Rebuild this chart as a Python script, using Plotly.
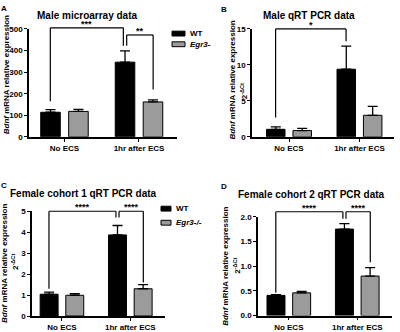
import plotly.graph_objects as go

W, H = 400, 332
FONT = "Liberation Sans, Arial, sans-serif"

categories = ["No ECS", "1hr after ECS"]

# Panel A - Male microarray data
a_wt = [114, 346]
a_wt_err = [12, 52]
a_egr = [118, 162]
a_egr_err = [9, 9]

# Panel B - Male qRT PCR data
b_wt = [1.05, 9.4]
b_wt_err = [0.35, 3.2]
b_egr = [0.88, 3.0]
b_egr_err = [0.3, 1.25]

# Panel C - Female cohort 1 qRT PCR data
c_wt = [1.04, 3.87]
c_wt_err = [0.1, 0.45]
c_egr = [0.99, 1.3]
c_egr_err = [0.08, 0.2]

# Panel D - Female cohort 2 qRT PCR data
d_wt = [0.41, 1.75]
d_wt_err = [0.015, 0.11]
d_egr = [0.46, 0.80]
d_egr_err = [0.03, 0.17]

titles = ["Male microarray data", "Male qRT PCR data",
          "Female cohort 1 qRT PCR data", "Female cohort 2 qRT PCR data"]
letters = ["A", "B", "C", "D"]

# significance brackets: (x0 offset, y0 left bottom, x1 offset, y1 right bottom, top, label)
a_sig = [(-0.19, 165, 0.79, 422, 505, "***"), (0.835, 422, 1.19, 220, 472, "**")]
b_sig = [(-0.19, 2.7, 0.81, 13.3, 15, "*")]
c_sig = [(-0.19, 1.3, 0.79, 4.7, 5.0, "****"), (0.835, 4.7, 1.19, 1.6, 5.0, "****")]
d_sig = [(-0.19, 0.46, 0.79, 1.96, 2.1, "****"), (0.835, 1.96, 1.19, 1.08, 2.1, "****")]

# layout geometry (pixels)
geo = [
    dict(xd=(29, 177), yd=(25.7, 137), xr=(-0.476, 1.51), yr=(0, 500), dt=100, fmt=""),
    dict(xd=(252, 394), yd=(25.7, 137), xr=(-0.525, 1.49), yr=(0, 15), dt=5, fmt=""),
    dict(xd=(32, 164.5), yd=(213.7, 321.7), xr=(-0.438, 1.5), yr=(0, 5), dt=1, fmt=""),
    dict(xd=(258, 391.5), yd=(219.3, 321.3), xr=(-0.45, 1.5), yr=(0, 2), dt=0.5, fmt=".1f"),
]
data = [
    (a_wt, a_wt_err, a_egr, a_egr_err, a_sig),
    (b_wt, b_wt_err, b_egr, b_egr_err, b_sig),
    (c_wt, c_wt_err, c_egr, c_egr_err, c_sig),
    (d_wt, d_wt_err, d_egr, d_egr_err, d_sig),
]

def px(x):
    return x / W

def py(y):
    return 1 - y / H

fig = go.Figure()
shapes = []
annotations = []

for i, (g, (wt, wte, eg, ege, sig)) in enumerate(zip(geo, data)):
    sfx = "" if i == 0 else str(i + 1)
    xa, ya = "x" + sfx, "y" + sfx
    for vals, errs, col in [(wt, wte, "black"), (eg, ege, "#9b9b9b")]:
        fig.add_trace(go.Bar(
            x=categories, y=vals, xaxis=xa, yaxis=ya, showlegend=False,
            marker=dict(color=col, line=dict(color="black", width=1)),
            error_y=dict(type="data", symmetric=False, array=errs,
                         arrayminus=[0] * len(errs), color="black",
                         thickness=1.3, width=5),
        ))
    axstyle = dict(showline=True, linecolor="black", linewidth=1.5,
                   ticks="outside", ticklen=3, tickwidth=1.3, tickcolor="black",
                   showgrid=False, zeroline=False,
                   tickfont=dict(family=FONT, size=8, color="black", weight="bold"))
    fig.update_layout(**{
        "xaxis" + sfx: dict(domain=[px(g["xd"][0]), px(g["xd"][1])],
                            anchor=ya, range=list(g["xr"]), type="category",
                            **axstyle),
        "yaxis" + sfx: dict(domain=[py(g["yd"][1]), py(g["yd"][0])],
                            anchor=xa, range=list(g["yr"]), dtick=g["dt"],
                            tickformat=g["fmt"], **axstyle),
    })
    y0p, y1p = py(g["yd"][1]), py(g["yd"][0])
    r0, r1 = g["yr"]

    def ypap(v):
        return y0p + (v - r0) / (r1 - r0) * (y1p - y0p)

    for (x0, yb0, x1, yb1, top, lab) in sig:
        ln = dict(color="black", width=1.2)
        shapes.append(dict(type="line", xref=xa, yref="paper", x0=x0, x1=x0,
                           y0=ypap(yb0), y1=ypap(top), line=ln))
        shapes.append(dict(type="line", xref=xa, yref="paper", x0=x0, x1=x1,
                           y0=ypap(top), y1=ypap(top), line=ln))
        shapes.append(dict(type="line", xref=xa, yref="paper", x0=x1, x1=x1,
                           y0=ypap(yb1), y1=ypap(top), line=ln))
        annotations.append(dict(text="<b>%s</b>" % lab, xref=xa, yref="paper",
                                x=(x0 + x1) / 2, y=ypap(top), xanchor="center",
                                yanchor="bottom", yshift=-3, showarrow=False,
                                font=dict(family=FONT, size=9, color="black")))

# titles, panel letters
title_pos = [(87, 12), (309, 12), (83.5, 195), (311.5, 196)]
letter_pos = [(4, 5), (224, 6), (4, 187), (224, 188)]
for t, (x, y) in zip(titles, title_pos):
    annotations.append(dict(text="<b>%s</b>" % t, xref="paper", yref="paper",
                            x=px(x), y=py(y), xanchor="center", yanchor="middle",
                            showarrow=False, font=dict(family=FONT, size=10, color="black")))
for t, (x, y) in zip(letters, letter_pos):
    annotations.append(dict(text="<b>%s</b>" % t, xref="paper", yref="paper",
                            x=px(x), y=py(y), xanchor="center", yanchor="middle",
                            showarrow=False, font=dict(family=FONT, size=8, color="black")))

# y-axis titles
ytitle = "<b><i>Bdnf</i> mRNA relative expression</b>"
ytitle2 = "<b>2<sup>-ΔCt</sup></b>"
ylab = [
    [(ytitle, 6, 73.5)],
    [(ytitle, 233, 79), (ytitle2, 244, 90)],
    [(ytitle, 5, 268), (ytitle2, 15, 266)],
    [(ytitle, 226, 270), (ytitle2, 237, 270)],
]
for items in ylab:
    for (t, x, y) in items:
        annotations.append(dict(text=t, xref="paper", yref="paper", x=px(x), y=py(y),
                                xanchor="center", yanchor="middle", textangle=-90,
                                showarrow=False, font=dict(family=FONT, size=8, color="black")))

# legends (A and C)
legends = [
    (172, 185, 30.5, 41.5, ["WT", "<i>Egr3-</i>"]),
    (161, 171, 211, 225.5, ["WT", "<i>Egr3-/-</i>"]),
]
for (lx0, lx1, ly1, ly2, labs) in legends:
    for yy, col, lab in [(ly1, "black", labs[0]), (ly2, "#9b9b9b", labs[1])]:
        shapes.append(dict(type="rect", xref="paper", yref="paper",
                           x0=px(lx0), x1=px(lx1), y0=py(yy + 2.5), y1=py(yy - 2.5),
                           fillcolor=col, line=dict(color="black", width=1)))
        annotations.append(dict(text="<b>%s</b>" % lab, xref="paper", yref="paper",
                                x=px(lx1 + 3), y=py(yy), xanchor="left", yanchor="middle",
                                showarrow=False, font=dict(family=FONT, size=8, color="black")))

fig.update_layout(
    width=W, height=H, margin=dict(l=0, r=0, t=0, b=0),
    paper_bgcolor="white", plot_bgcolor="white",
    barmode="group", bargap=0.25, bargroupgap=0.3,
    showlegend=False, shapes=shapes, annotations=annotations,
    font=dict(family=FONT, color="black"),
)
fig.write_html("out.html", config={"displayModeBar": False},
               post_script="document.body.style.margin='0';document.body.style.padding='0';")
